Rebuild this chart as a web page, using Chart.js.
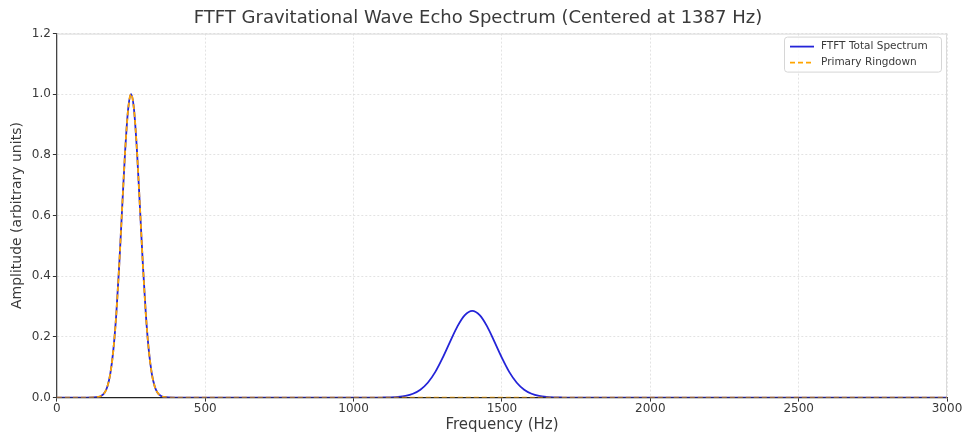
<!DOCTYPE html>
<html lang="en">

<head>
    <meta charset="UTF-8">
    <title>FTFT Echo Spectrum</title>
    <script src="https://cdn.jsdelivr.net/npm/chart.js@4.4.1/dist/chart.umd.min.js"></script>
    <style>
        body {
            margin: 0;
            background: #fff;
        }
    </style>
</head>

<body>
    <canvas id="spectrum" width="967" height="434"></canvas>

    <script>
        // values
        const freqHz = [0, 100, 140, 150, 160, 170, 180, 190, 200, 210, 220, 230, 240, 250, 260, 270, 280, 290, 300, 310, 320, 330, 340, 350, 360, 400,
            1000, 1075, 1100, 1125, 1150, 1175, 1200, 1225, 1250, 1275, 1300, 1325, 1350, 1375, 1400, 1425, 1450, 1475, 1500, 1525, 1550, 1575, 1600, 1625, 1650, 1675, 1700, 1725, 1800, 3000];
        const primaryAmp = [0, 0, 0.002, 0.006, 0.015, 0.036, 0.078, 0.154, 0.272, 0.435, 0.626, 0.812, 0.949, 1.0, 0.949, 0.812, 0.626, 0.435, 0.272, 0.154, 0.078, 0.036, 0.015, 0.006, 0.002, 0,
            0, 0, 0, 0, 0, 0, 0, 0, 0, 0, 0, 0, 0, 0, 0, 0, 0, 0, 0, 0, 0, 0, 0, 0, 0, 0, 0, 0, 0, 0];
        const totalAmp = [0, 0, 0.002, 0.006, 0.015, 0.036, 0.078, 0.154, 0.272, 0.435, 0.626, 0.812, 0.949, 1.0, 0.949, 0.812, 0.626, 0.435, 0.272, 0.154, 0.078, 0.036, 0.015, 0.006, 0.002, 0,
            0, 0, 0.0003, 0.0008, 0.0022, 0.0055, 0.0126, 0.026, 0.049, 0.084, 0.131, 0.184, 0.235, 0.272, 0.286, 0.272, 0.235, 0.184, 0.131, 0.084, 0.049, 0.026, 0.0126, 0.0055, 0.0022, 0.0008, 0.0003, 0, 0, 0];
        const xTicks = [0, 500, 1000, 1500, 2000, 2500, 3000];
        const yTicks = [0, 0.2, 0.4, 0.6, 0.8, 1.0, 1.2];

        const FONT = "'DejaVu Sans', sans-serif";
        const TXT = '#3a3a3a';

        function pts(ys) {
            return freqHz.map((f, i) => ({ x: f, y: ys[i] }));
        }

        // light frame on top/right + legend box in the upper right corner
        const framePlugin = {
            id: 'frame',
            beforeDatasetsDraw(chart) {
                const a = chart.chartArea, c = chart.ctx;
                c.save();
                c.strokeStyle = '#dadada';
                c.lineWidth = 1;
                c.beginPath();
                c.moveTo(a.left, a.top + 0.5);
                c.lineTo(a.right - 0.5, a.top + 0.5);
                c.lineTo(a.right - 0.5, a.bottom);
                c.stroke();
                c.restore();
            },
            afterDatasetsDraw(chart) {
                const a = chart.chartArea, c = chart.ctx;
                const w = 157, h = 35;
                const x0 = a.right - w - 6, y0 = a.top + 3;
                c.save();
                c.fillStyle = 'rgba(255,255,255,0.85)';
                c.strokeStyle = '#d6d6d6';
                c.lineWidth = 1;
                c.beginPath();
                c.roundRect(x0 + 0.5, y0 + 0.5, w, h, 3);
                c.fill();
                c.stroke();
                c.font = "10.5px " + FONT;
                c.textBaseline = 'middle';
                chart.data.datasets.forEach((ds, i) => {
                    const y = y0 + 10 + i * 16;
                    c.strokeStyle = ds.borderColor;
                    c.lineWidth = ds.borderWidth;
                    c.setLineDash(ds.borderDash || []);
                    c.beginPath();
                    c.moveTo(x0 + 6, y);
                    c.lineTo(x0 + 30, y);
                    c.stroke();
                    c.setLineDash([]);
                    c.fillStyle = TXT;
                    c.fillText(ds.label, x0 + 37, y);
                });
                c.restore();
            }
        };

        new Chart(document.getElementById('spectrum'), {
            type: 'line',
            data: {
                datasets: [{
                    label: 'FTFT Total Spectrum',
                    data: pts(totalAmp),
                    borderColor: '#2424d8',
                    borderWidth: 1.8,
                    pointRadius: 0,
                    cubicInterpolationMode: 'monotone',
                    order: 2
                }, {
                    label: 'Primary Ringdown',
                    data: pts(primaryAmp),
                    borderColor: '#ffa500',
                    borderWidth: 1.8,
                    borderDash: [5, 3],
                    pointRadius: 0,
                    cubicInterpolationMode: 'monotone',
                    order: 1
                }]
            },
            options: {
                responsive: false,
                animation: false,
                layout: {
                    padding: { left: 9, right: 20, top: 0, bottom: 0 }
                },
                plugins: {
                    legend: { display: false },
                    tooltip: { enabled: false },
                    title: {
                        display: true,
                        text: 'FTFT Gravitational Wave Echo Spectrum (Centered at 1387 Hz)',
                        color: TXT,
                        font: { family: FONT, size: 18, weight: 'normal' },
                        padding: { top: 8, bottom: 4 }
                    }
                },
                scales: {
                    x: {
                        type: 'linear',
                        min: 0,
                        max: 3000,
                        afterBuildTicks: (s) => { s.ticks = xTicks.map(v => ({ value: v })); },
                        ticks: {
                            color: TXT,
                            font: { family: FONT, size: 12 },
                            padding: 0,
                            maxRotation: 0,
                            callback: v => String(v)
                        },
                        grid: {
                            color: '#dcdcdc',
                            lineWidth: 0.8,
                            tickColor: '#333',
                            tickLength: 4,
                            tickWidth: 1
                        },
                        border: { color: '#222', width: 1.3, dash: [2, 2] },
                        title: {
                            display: true,
                            text: 'Frequency (Hz)',
                            color: TXT,
                            font: { family: FONT, size: 15 },
                            padding: { top: 0, bottom: 0 }
                        }
                    },
                    y: {
                        min: 0,
                        max: 1.2,
                        afterBuildTicks: (s) => { s.ticks = yTicks.map(v => ({ value: v })); },
                        ticks: {
                            color: TXT,
                            font: { family: FONT, size: 12 },
                            padding: 2,
                            callback: v => v.toFixed(1)
                        },
                        grid: {
                            color: '#dcdcdc',
                            lineWidth: 0.8,
                            tickColor: '#333',
                            tickLength: 4,
                            tickWidth: 1
                        },
                        border: { color: '#444', width: 1.3, dash: [2, 2] },
                        title: {
                            display: true,
                            text: 'Amplitude (arbitrary units)',
                            color: TXT,
                            font: { family: FONT, size: 14 },
                            padding: { top: 0, bottom: 4 }
                        }
                    }
                }
            },
            plugins: [framePlugin]
        });
    </script>
</body>

</html>
